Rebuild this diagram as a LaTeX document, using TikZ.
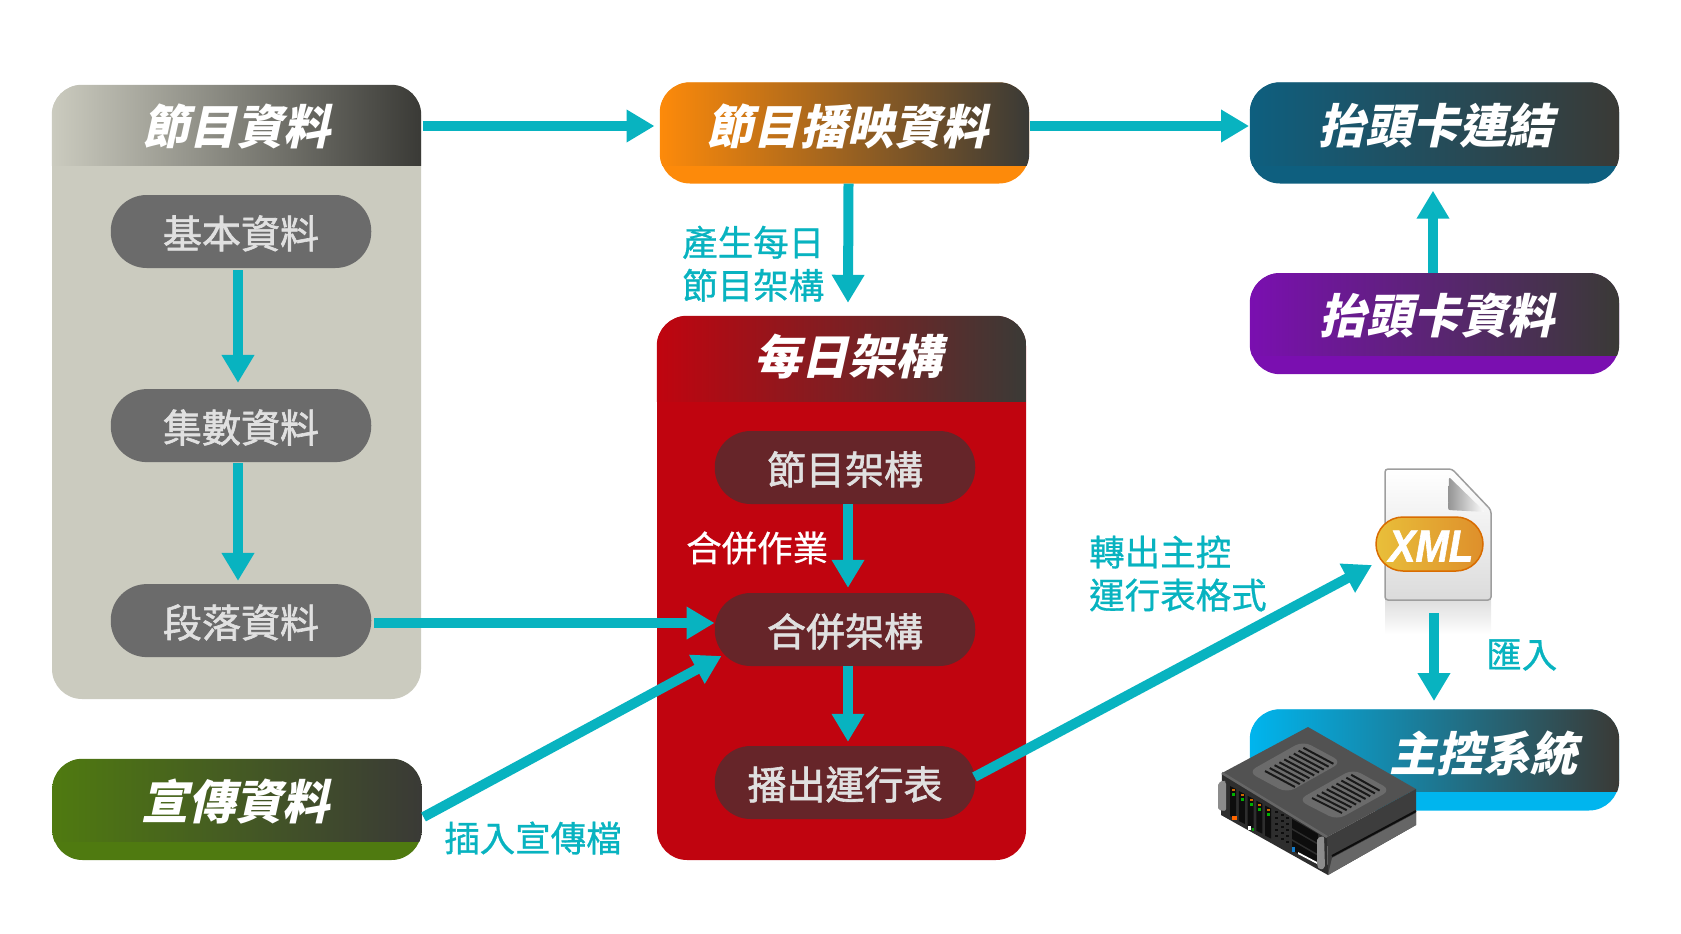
\documentclass[tikz,border=0pt]{standalone}
\usepackage{fontspec}
\usetikzlibrary{arrows.meta}
\setmainfont{Noto Sans CJK TC}
\newfontfamily\pillfont[FakeBold=1.6]{Noto Sans CJK TC}
\newfontfamily\notefont[FakeBold=.8]{Noto Sans CJK TC}
\newfontfamily\xmlfont[FakeBold=1.5]{Liberation Sans}
\definecolor{flowcyan}{HTML}{08B3C0}
\definecolor{dimgrey}{HTML}{3A3A36}
\definecolor{panelgrey}{HTML}{CBCBBF}
\definecolor{pillgrey}{HTML}{6B6B6B}
\definecolor{pillred}{HTML}{662529}
\definecolor{panelred}{HTML}{C0040F}
\definecolor{paneloran}{HTML}{FD8A0A}
\definecolor{panelteal}{HTML}{0E5F7F}
\definecolor{panelpurp}{HTML}{7A0FB0}
\definecolor{panelgreen}{HTML}{4F7A10}
\definecolor{panelblue}{HTML}{00B5EE}
\definecolor{xmlyellow}{HTML}{E9BF3A}
\definecolor{xmlorange}{HTML}{DE8F2B}
\tikzset{
  panel/.style={rectangle, rounded corners=30pt, inner sep=0pt, minimum width=369pt},
  pill/.style={rectangle, rounded corners=36pt, inner sep=0pt, minimum height=73pt, minimum width=260.5pt, text=black!12, text height=38pt, text depth=4.4pt, font=\pillfont\fontsize{39}{39}\selectfont},
  title/.style={text=white, inner sep=0pt, xslant=.22, transform shape, font=\bfseries\fontsize{47}{47}\selectfont},
  note/.style={text=flowcyan, inner sep=0pt, anchor=west, align=left, font=\notefont\fontsize{35.5}{43}\selectfont},
  flow/.style={draw=flowcyan, line width=10pt, -{Triangle[width=31pt,length=28pt]}}
}
\newcommand{\headbar}[3]{\begin{scope}
  \clip[rounded corners=30pt] (#1.north west) rectangle (#1.south east);
  \shade[left color=#3, right color=dimgrey] (#1.north west) rectangle ([yshift=#2]#1.north east);
\end{scope}}
\begin{document}
\begin{tikzpicture}[x=1pt,y=-1pt]
\useasboundingbox (0,0) rectangle (1681,934);

\node[panel, minimum height=614pt, fill=panelgrey] (progbox) at (236.5,392) {};
\headbar{progbox}{-81pt}{panelgrey}
\node[title] (progtitle) at (240,126.5) {節目資料};
\node[pill, fill=pillgrey] (basic) at (241,231.5) {基本資料};
\node[pill, fill=pillgrey] (count) at (241,425.6) {集數資料};
\node[pill, fill=pillgrey] (part) at (241,620.6) {段落資料};

\node[panel, minimum height=101pt, fill=paneloran] (airbox) at (844.5,133) {};
\headbar{airbox}{-83.5pt}{paneloran}
\node[title] (airtitle) at (851,126.5) {節目播映資料};

\node[panel, minimum height=101pt, fill=panelteal] (cardbox) at (1434.5,133) {};
\headbar{cardbox}{-83.5pt}{panelteal}
\node[title] (cardtitle) at (1440,125.5) {抬頭卡連結};

\node[panel, minimum height=101pt, fill=panelpurp] (infobox) at (1434.5,323.7) {};
\headbar{infobox}{-82.5pt}{panelpurp}
\node[title] (infotitle) at (1441,316) {抬頭卡資料};

\node[panel, minimum height=544pt, fill=panelred] (daybox) at (841.5,588) {};
\headbar{daybox}{-86pt}{panelred}
\node[title] (daytitle) at (852,357) {每日架構};
\node[pill, fill=pillred] (frame) at (845,467.5) {節目架構};
\node[pill, fill=pillred] (merge) at (845,629.5) {合併架構};
\node[pill, fill=pillred] (play) at (845,782.5) {播出運行表};

\node[panel, minimum height=101pt, fill=panelgreen] (adbox) at (237,809.5) {};
\headbar{adbox}{-82.5pt}{panelgreen}
\node[title] (adtitle) at (239.5,802) {宣傳資料};

\node[panel, minimum height=101pt, fill=panelblue] (masterbox) at (1434.5,760) {};
\headbar{masterbox}{-82pt}{panelblue}
\node[title] (mastertitle) at (1487,753.6) {主控系統};

\coordinate (progout) at (422.5,126);
\coordinate (airin) at (654.5,126);
\coordinate (airout) at (1030,126);
\coordinate (cardin) at (1249,126);
\coordinate (xmlin) at (1372,565);
\coordinate (xmlout) at (1434,613);
\coordinate (masterin) at (1434,701);
\coordinate (adout) at (423.5,817);
\coordinate (mergein) at (721.5,656);
\coordinate (playout) at (974.5,777);

\draw[flow] (progout) -- (airin);
\draw[flow] (airout) -- (cardin);
\draw[flow] ([xshift=-1.5pt]infobox.north) -- ([xshift=-1.5pt,yshift=-7pt]cardbox.south);
\draw[flow] ([xshift=4pt]airbox.south) -- ([xshift=6.5pt,yshift=13pt]daybox.north);
\draw[flow] ([xshift=-3pt,yshift=-2pt]basic.south) -- ([xshift=-3pt,yshift=6pt]count.north);
\draw[flow] ([xshift=-3pt,yshift=-1pt]count.south) -- ([xshift=-3pt,yshift=3pt]part.north);
\draw[flow] ([xshift=3pt]frame.south) -- ([xshift=3pt,yshift=5pt]merge.north);
\draw[flow] ([xshift=3pt]merge.south) -- ([xshift=3pt,yshift=4pt]play.north);
\draw[flow] ([xshift=3pt,yshift=-2.4pt]part.east) -- ([yshift=6.5pt]merge.west);
\draw[flow] (adout) -- (mergein);
\draw[flow] (playout) -- (xmlin);

\node[note] (genlabel) at (682,263.7) {產生每日\\節目架構};
\node[note, text=white] (mergelabel) at (686,548) {合併作業};
\node[note] (inslabel) at (444,838) {插入宣傳檔};
\node[note] (outlabel) at (1089,573.5) {轉出主控\\運行表格式};
\node[note] (implabel) at (1486,655) {匯入};

\shade[top color=black!13, bottom color=white] (1385,600) rectangle (1491,634);
\draw[flow] (xmlout) -- (masterin);
\path[top color=white, bottom color=black!14, draw=black!38, line width=1.5pt, rounded corners=3pt]
  (1385,469) -- (1452,469) -- (1491,510) -- (1491,600) -- (1385,600) -- cycle;
\path[left color=black!42, right color=white, rounded corners=2pt] (1449,477) -- (1448,510) -- (1485,512) -- cycle;
\node[rectangle, rounded corners=27pt, minimum width=107pt, minimum height=54pt, inner sep=0pt, left color=xmlyellow, right color=xmlorange, draw=orange!85!black, line width=1.5pt] (xmlbadge) at (1429.5,544) {};
\node[text=white, inner sep=0pt, yscale=1.12, transform shape, font=\xmlfont\bfseries\itshape\fontsize{40}{40}\selectfont] (xmltext) at (1431,546) {XML};

\coordinate (srvleft) at (1222,773);
\coordinate (srvback) at (1308,727);
\coordinate (srvright) at (1416,789);
\coordinate (srvfront) at (1327,837);
\coordinate (srvlow) at (1328,875);
\coordinate (srvlowr) at (1416,825);
\coordinate (srvlowl) at (1221,815);
\fill[black!68] (srvleft) -- (srvback) -- (srvright) -- (srvfront) -- cycle;
\fill[black!76] (srvfront) -- (srvright) -- (srvlowr) -- (srvlow) -- cycle;
\fill[black!82] (srvleft) -- (srvfront) -- (srvlow) -- (srvlowl) -- cycle;
\draw[black!60, line width=2.5pt] (srvleft) -- (srvfront);
\draw[black!95, line width=2pt] (1332,856) -- (1416,811);
\fill[black!60] (1332,858) -- (1416,813) -- (srvlowr) -- (srvlow) -- cycle;
\fill[black!58, rounded corners=9pt] (1248,772) -- (1303,741) -- (1342,762) -- (1287,793) -- cycle;
\fill[black!58, rounded corners=9pt] (1298,800) -- (1353,769) -- (1391,790) -- (1337,820) -- cycle;
\foreach \i in {0,...,8}{
  \draw[black!90, line width=2pt] ({1265+4.8*\i},{771-2.9*\i}) -- ({1295+4.8*\i},{787-2.9*\i});
  \draw[black!90, line width=2pt] ({1312+4.9*\i},{798-2.9*\i}) -- ({1342+4.7*\i},{813-2.8*\i});
}
\foreach \i in {0,...,4}{
  \fill[black!95] ({1230+8.75*\i},{786+4.9*\i}) -- ({1236+8.75*\i},{789+4.9*\i}) -- ({1236+8.75*\i},{819+4.9*\i}) -- ({1230+8.75*\i},{816+4.9*\i}) -- cycle;
  \fill[green!70!black] ({1232+8.75*\i},{793+4.9*\i}) rectangle ({1235+8.75*\i},{796+4.9*\i});
  \fill[orange!80!black] ({1232+8.75*\i},{789+4.9*\i}) rectangle ({1235+8.75*\i},{791+4.9*\i});
}
\foreach \i in {0,...,2}
  \foreach \j in {0,...,4}
    \fill[black!95] ({1275+5.5*\i},{811+3.1*\i+6*\j}) rectangle +(3,2);
\foreach \j in {0,1,2}
  \fill[black!95] ({1292},{819+11*\j}) -- (1318,{834+11*\j}) -- (1318,{843+11*\j}) -- (1292,{828+11*\j}) -- cycle;
\fill[white] (1298,852) -- (1317,862) -- (1317,864) -- (1298,854) -- cycle;
\fill[cyan!60!blue] (1292,847) rectangle (1295,852);
\fill[orange!80!red] (1232,816) rectangle (1237,820);
\fill[white] (1248,826) rectangle (1251,830);
\fill[green!60!black] (1252,828) rectangle (1254,831);
\fill[black!45, rounded corners=2pt] (1218,783) -- (1224,780) -- (1226,782) -- (1226,811) -- (1218,810) -- cycle;
\fill[black!45, rounded corners=2pt] (1317,838) -- (1324,836) -- (1325,868) -- (1320,870) -- (1317,866) -- cycle;
\end{tikzpicture}
\end{document}
